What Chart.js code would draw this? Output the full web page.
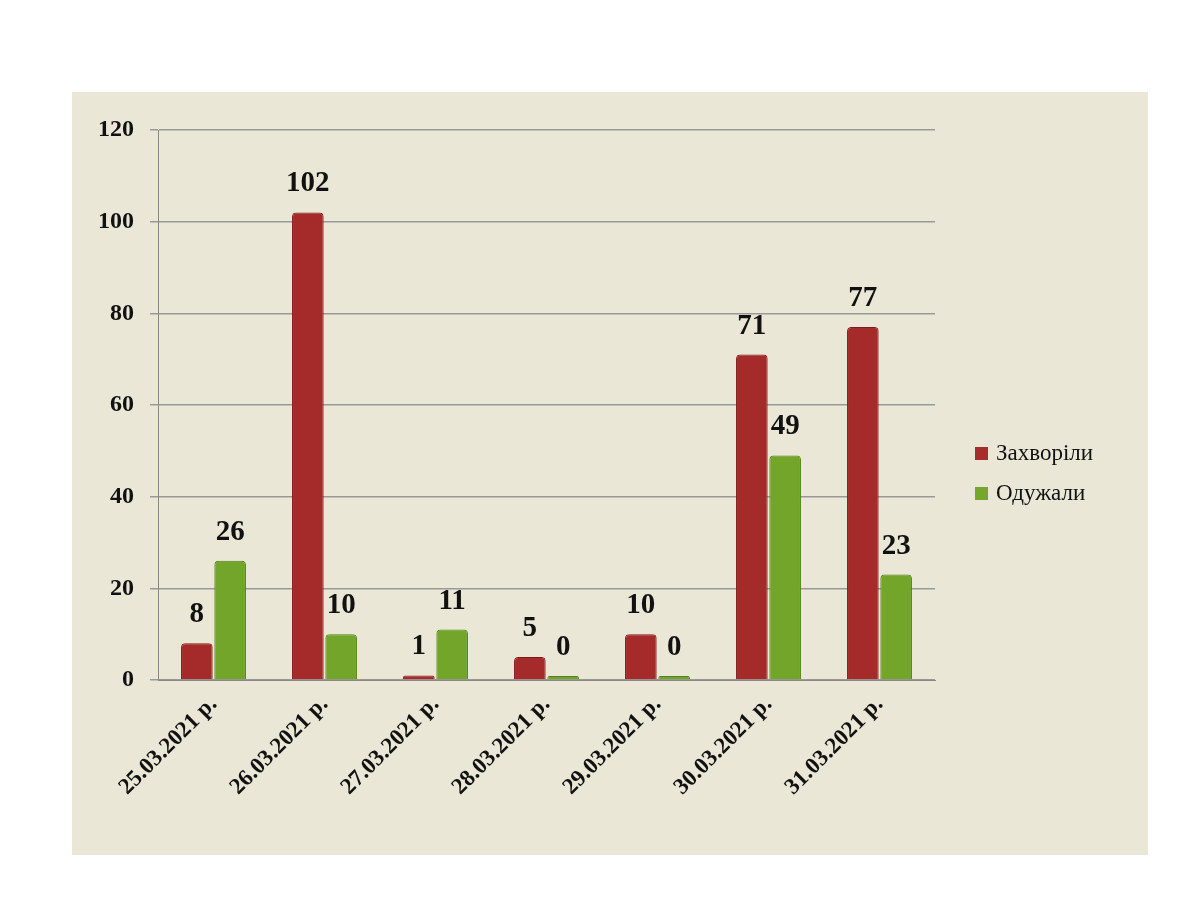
<!DOCTYPE html>
<html>
<head>
<meta charset="utf-8">
<script src="https://cdn.jsdelivr.net/npm/chart.js@4/dist/chart.umd.min.js"></script>
<style>
  body { margin: 0; background: #fff; }
  #panel { position: absolute; left: 72px; top: 92px; width: 1076px; height: 763px; background: #ebe7d6; }
  #legend { position: absolute; left: 903px; top: 348px; font: 23px "Liberation Serif", serif; color: #111; }
  #legend div { display: flex; align-items: center; margin-bottom: 14px; }
  #legend span { display: inline-block; width: 13px; height: 13px; margin-right: 8px; }
</style>
</head>
<body>
<div id="panel">
  <canvas id="chart" width="1076" height="763"></canvas>
  <div id="legend">
    <div><span style="background:#a82c2c"></span>Захворіли</div>
    <div><span style="background:#76a62c"></span>Одужали</div>
  </div>
</div>
<script>
const dates = ['25.03.2021 р.', '26.03.2021 р.', '27.03.2021 р.', '28.03.2021 р.', '29.03.2021 р.', '30.03.2021 р.', '31.03.2021 р.'];
const sick = [8, 102, 1, 5, 10, 71, 77];
const recovered = [26, 10, 11, 0, 0, 49, 23];

const serif = '"Liberation Serif", "DejaVu Serif", serif';

const valueLabels = {
    id: 'valueLabels',
    afterDatasetsDraw(chart) {
        const c = chart.ctx;
        c.save();
        c.font = 'bold 29px ' + serif;
        c.fillStyle = '#111';
        c.textAlign = 'center';
        c.textBaseline = 'bottom';
        chart.data.datasets.forEach((ds, i) => {
            chart.getDatasetMeta(i).data.forEach((bar, j) => {
                c.fillText(ds.data[j], bar.x, bar.y - 14);
            });
        });
        c.restore();
    }
};

new Chart(document.getElementById('chart'), {
    type: 'bar',
    data: {
        labels: dates,
        datasets: [
            { label: 'Захворіли', data: sick, backgroundColor: '#a52a2a', borderColor: '#7e1a1a', borderWidth: 1, borderRadius: 4, minBarLength: 4 },
            { label: 'Одужали', data: recovered, backgroundColor: '#72a52a', borderColor: '#52801a', borderWidth: 1, borderRadius: 4, minBarLength: 4 }
        ]
    },
    options: {
        responsive: false,
        animation: false,
        categoryPercentage: 0.6,
        barPercentage: 0.95,
        layout: { padding: { top: 38, right: 213 } },
        plugins: { legend: { display: false }, tooltip: { enabled: false } },
        scales: {
            x: {
                grid: { display: false },
                border: { color: '#888' },
                ticks: { minRotation: 45, maxRotation: 45, color: '#111', font: { family: serif, size: 23, weight: 'bold' } },
                afterFit: s => { s.height = 175; }
            },
            y: {
                min: 0, max: 120,
                ticks: { stepSize: 20, color: '#111', padding: 16, font: { family: serif, size: 24, weight: 'bold' } },
                grid: { color: '#999', lineWidth: 1.5 },
                border: { color: '#888' },
                afterFit: s => { s.width = 86; }
            }
        }
    },
    plugins: [valueLabels]
});
</script>
</body>
</html>
